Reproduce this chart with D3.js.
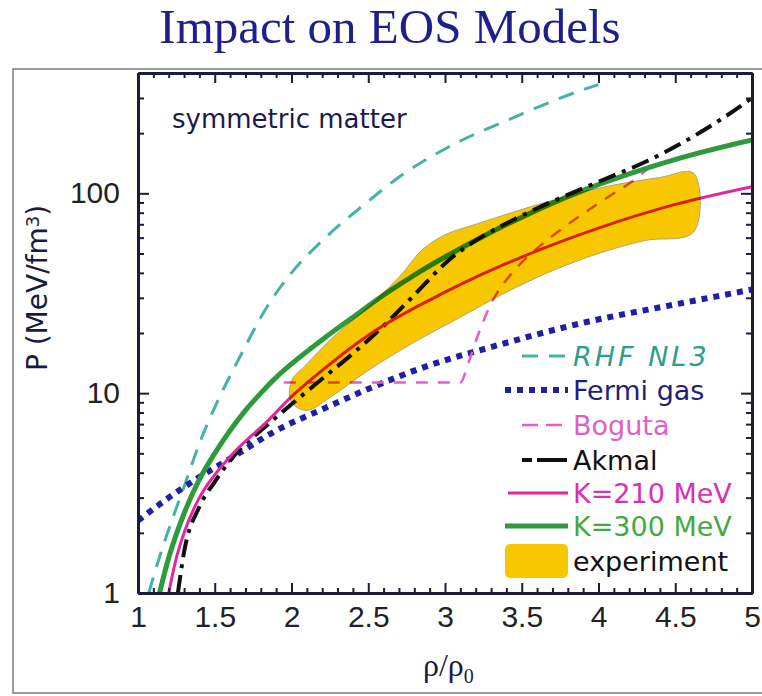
<!DOCTYPE html>
<html>
<head>
<meta charset="utf-8">
<script src="https://cdn.jsdelivr.net/npm/d3@7"></script>
<style>
  body { margin: 0; background: #fff; }
  svg { display: block; }
</style>
</head>
<body>
<div id="chart"></div>
<script>
// data: [rho/rho0, P (MeV/fm^3)]
var rhfNL3 = [[1.07, 1.0], [1.15, 1.6], [1.22, 2.3], [1.3, 3.4], [1.4, 5.6], [1.53, 9.5], [1.66, 15], [1.84, 27],
  [2.0, 40], [2.18, 56], [2.49, 90], [2.71, 122], [3.02, 170], [3.45, 240], [3.89, 328], [4.0, 350]];
var fermiGas = [[1.0, 2.3], [1.2, 3.0], [1.4, 3.8], [1.6, 4.7], [1.9, 6.5], [2.2, 8.3], [2.5, 10.5],
  [2.9, 13.8], [3.3, 17], [3.9, 22.5], [4.5, 27.8], [5.0, 33]];
var boguta = [[1.95, 11.3], [2.5, 11.3], [3.1, 11.3], [3.15, 14], [3.22, 20], [3.3, 28], [3.45, 41],
  [3.6, 53], [3.78, 68], [3.95, 84], [4.1, 100], [4.2, 112], [4.35, 138]];
var akmal = [[1.26, 1.0], [1.3, 1.6], [1.4, 2.7], [1.5, 3.6], [1.62, 4.8], [1.84, 6.9], [2.0, 8.8],
  [2.2, 11.8], [2.4, 15.8], [2.58, 21], [2.8, 31], [3.02, 46], [3.23, 60], [3.45, 74], [3.67, 89],
  [3.9, 106], [4.1, 123], [4.3, 143], [4.54, 178], [4.8, 235], [5.0, 300]];
var k210 = [[1.2, 1.0], [1.25, 1.5], [1.3, 2.0], [1.4, 3.0], [1.5, 3.9], [1.62, 5.0], [1.84, 7.2],
  [2.0, 9.6], [2.2, 13], [2.5, 19.5], [3.0, 32], [3.5, 48], [4.0, 67], [4.5, 88], [5.0, 108]];
var k300 = [[1.14, 1.0], [1.2, 1.5], [1.3, 2.5], [1.4, 3.7], [1.5, 5.0], [1.6, 6.5], [1.7, 8.2],
  [1.8, 10.0], [1.9, 12.0], [2.0, 14.0], [2.2, 18.5], [2.4, 24], [2.6, 31], [2.8, 39], [3.0, 48],
  [3.25, 61], [3.5, 76], [3.88, 102], [4.2, 125], [4.53, 150], [5.0, 185]];
// experimental band: upper edge left to right, then lower edge right to left
var bandUpper = [[2.0, 11.5], [2.1, 14], [2.3, 20], [2.5, 27], [2.7, 38], [2.85, 52], [3.0, 62],
  [3.2, 70], [3.5, 83], [3.8, 97], [4.1, 110], [4.4, 120], [4.62, 126]];
var bandLower = [[4.62, 64], [4.3, 58], [4.0, 50], [3.7, 41], [3.4, 32], [3.1, 24], [2.8, 18],
  [2.5, 13], [2.25, 9.5], [2.1, 8.2], [2.0, 9]];

var xTicks = [1, 1.5, 2, 2.5, 3, 3.5, 4, 4.5, 5];
var yTicks = [1, 10, 100];
var legendLabels = ['RHF NL3', 'Fermi gas', 'Boguta', 'Akmal', 'K=210 MeV', 'K=300 MeV', 'experiment'];

function draw() {

  // dimensions
  var dimensions = {
    width: 762,
    height: 696,
    margin: { top: 73, bottom: 103, left: 138, right: 10 }
  };
  dimensions.containerWidth = dimensions.width - dimensions.margin.left - dimensions.margin.right;
  dimensions.containerHeight = dimensions.height - dimensions.margin.top - dimensions.margin.bottom;

  var svg = d3.select('#chart')
    .append('svg')
    .attr('width', dimensions.width)
    .attr('height', dimensions.height);

  // outer slide frame
  svg.append('rect')
    .attr('x', 13).attr('y', 69)
    .attr('width', 765).attr('height', 624)
    .attr('fill', 'none')
    .attr('stroke', '#7a7a86')
    .attr('stroke-width', 1.5);

  svg.append('text')
    .attr('x', 390).attr('y', 43)
    .attr('text-anchor', 'middle')
    .attr('fill', '#1f1f8c')
    .style('font-family', 'Liberation Serif, serif')
    .style('font-size', '49px')
    .text('Impact on EOS Models');

  var container = svg.append('g')
    .attr('transform', 'translate(' + dimensions.margin.left + ',' + dimensions.margin.top + ')');

  // scales
  var xScale = d3.scaleLinear()
    .domain([1, 5])
    .range([0, dimensions.containerWidth]);

  var yScale = d3.scaleLog()
    .domain([1, 400])
    .range([dimensions.containerHeight, 0]);

  container.append('clipPath')
    .attr('id', 'plot-clip')
    .append('rect')
    .attr('width', dimensions.containerWidth)
    .attr('height', dimensions.containerHeight);

  var plot = container.append('g').attr('clip-path', 'url(#plot-clip)');

  var line = d3.line()
    .x(d => xScale(d[0]))
    .y(d => yScale(d[1]))
    .curve(d3.curveMonotoneX);

  var series = [
    { data: rhfNL3, color: '#45b3a4', width: 3, dash: '16,11' },
    { data: fermiGas, color: '#1f1fa6', width: 6, dash: '6,6' },
    { data: boguta, color: '#e25ccb', width: 2.5, dash: '12,10' },
    { data: k300, color: '#2f9a3b', width: 5, dash: null },
    { data: akmal, color: '#111111', width: 4, dash: '18,7,4,7' },
    { data: k210, color: '#e2279c', width: 3, dash: null }
  ];

  plot.selectAll('path.curve')
    .data(series)
    .join('path')
    .classed('curve', true)
    .attr('d', d => line(d.data))
    .attr('fill', 'none')
    .attr('stroke', d => d.color)
    .attr('stroke-width', d => d.width)
    .attr('stroke-dasharray', d => d.dash);

  // experiment band, multiplied over the curves
  var bandLine = d3.line()
    .x(d => xScale(d[0]))
    .y(d => yScale(d[1]))
    .curve(d3.curveCatmullRomClosed);

  plot.append('path')
    .attr('d', bandLine(bandUpper.concat(bandLower)))
    .attr('fill', '#f7c800')
    .attr('stroke', '#b0a27a')
    .attr('stroke-width', 1)
    .style('mix-blend-mode', 'multiply');

  // axes, ticks pointing inwards
  var minorX = d3.range(10, 51).map(d => d / 10).filter(d => d * 2 % 1 !== 0);
  var minorY = [2, 3, 4, 5, 6, 7, 8, 9, 20, 30, 40, 50, 60, 70, 80, 90, 200, 300];

  var axisColor = '#1b1b3a';

  function styleAxis(g) {
    g.select('.domain').attr('stroke', axisColor).attr('stroke-width', 3);
    g.selectAll('.tick line').attr('stroke', axisColor).attr('stroke-width', 2);
    g.selectAll('.tick text')
      .attr('fill', '#222')
      .style('font-family', 'Liberation Sans, Arial, sans-serif')
      .style('font-size', '30px');
  }

  var h = dimensions.containerHeight;
  var w = dimensions.containerWidth;

  container.append('g')
    .attr('transform', 'translate(0,' + h + ')')
    .call(d3.axisBottom(xScale).tickValues(minorX).tickSize(-5).tickSizeOuter(0).tickFormat(''))
    .call(styleAxis);
  container.append('g')
    .attr('transform', 'translate(0,' + h + ')')
    .call(d3.axisBottom(xScale).tickValues(xTicks).tickSize(-10).tickSizeOuter(0).tickPadding(13)
      .tickFormat(d3.format('')))
    .call(styleAxis);

  container.append('g')
    .call(d3.axisTop(xScale).tickValues(minorX).tickSize(-5).tickSizeOuter(0).tickFormat(''))
    .call(styleAxis);
  container.append('g')
    .call(d3.axisTop(xScale).tickValues(xTicks).tickSize(-10).tickSizeOuter(0).tickFormat(''))
    .call(styleAxis);

  container.append('g')
    .call(d3.axisLeft(yScale).tickValues(minorY).tickSize(-6).tickSizeOuter(0).tickFormat(''))
    .call(styleAxis);
  container.append('g')
    .call(d3.axisLeft(yScale).tickValues(yTicks).tickSize(-11).tickSizeOuter(0).tickPadding(18)
      .tickFormat(d3.format('d')))
    .call(styleAxis);

  container.append('g')
    .attr('transform', 'translate(' + w + ',0)')
    .call(d3.axisRight(yScale).tickValues(minorY).tickSize(-6).tickSizeOuter(0).tickFormat(''))
    .call(styleAxis);
  container.append('g')
    .attr('transform', 'translate(' + w + ',0)')
    .call(d3.axisRight(yScale).tickValues(yTicks).tickSize(-11).tickSizeOuter(0).tickFormat(''))
    .call(styleAxis);

  // axis titles
  var yLabel = svg.append('text')
    .attr('transform', 'translate(47,288) rotate(-90)')
    .attr('text-anchor', 'middle')
    .attr('fill', '#1b1b3a')
    .style('font-family', 'DejaVu Sans, sans-serif')
    .style('font-size', '28px');
  yLabel.append('tspan').text('P (MeV/fm');
  yLabel.append('tspan').attr('baseline-shift', '45%').style('font-size', '18px').text('3');
  yLabel.append('tspan').text(')');

  var xLabel = svg.append('text')
    .attr('x', 423).attr('y', 676)
    .attr('fill', '#1b1b3a')
    .style('font-family', 'Liberation Serif, serif')
    .style('font-size', '32px');
  xLabel.append('tspan').text('\u03c1/\u03c1');
  xLabel.append('tspan').attr('baseline-shift', '-35%').style('font-size', '20px').text('0');

  container.append('text')
    .attr('x', 34).attr('y', 55)
    .attr('fill', '#1a1a50')
    .style('font-family', 'DejaVu Sans, sans-serif')
    .style('font-size', '26px')
    .text('symmetric matter');

  // legend
  var legendRows = [
    { y: 356, color: '#45b3a4', text: '#2f9d8b', width: 3, dash: '16,11', x0: 522, italic: true },
    { y: 390, color: '#1f1fa6', text: '#1e1e78', width: 6, dash: '6,6', x0: 505 },
    { y: 425, color: '#e25ccb', text: '#e060c8', width: 2.5, dash: '16,8', x0: 522 },
    { y: 460, color: '#111111', text: '#111111', width: 4, dash: '10,5,30', x0: 522 },
    { y: 493, color: '#e2279c', text: '#d82fb4', width: 3, dash: null, x0: 508 },
    { y: 526, color: '#2f9a3b', text: '#45a845', width: 5, dash: null, x0: 505 },
    { y: 561, color: null, text: '#111111', x0: 505 }
  ];

  var legend = svg.append('g');
  legendRows.forEach(function(row, i) {
    if (row.color) {
      legend.append('line')
        .attr('x1', row.x0).attr('x2', 568)
        .attr('y1', row.y).attr('y2', row.y)
        .attr('stroke', row.color)
        .attr('stroke-width', row.width)
        .attr('stroke-dasharray', row.dash);
    } else {
      legend.append('rect')
        .attr('x', row.x0).attr('y', row.y - 17)
        .attr('width', 63).attr('height', 34)
        .attr('rx', 5)
        .attr('fill', '#f7c800');
    }
    legend.append('text')
      .attr('x', 573).attr('y', row.y)
      .attr('dy', '0.36em')
      .attr('fill', row.text)
      .style('font-family', 'DejaVu Sans, sans-serif')
      .style('font-size', '27px')
      .style('font-style', row.italic ? 'italic' : 'normal')
      .style('letter-spacing', row.italic ? '3px' : '0px')
      .text(legendLabels[i]);
  });
}

draw();
</script>
</body>
</html>
